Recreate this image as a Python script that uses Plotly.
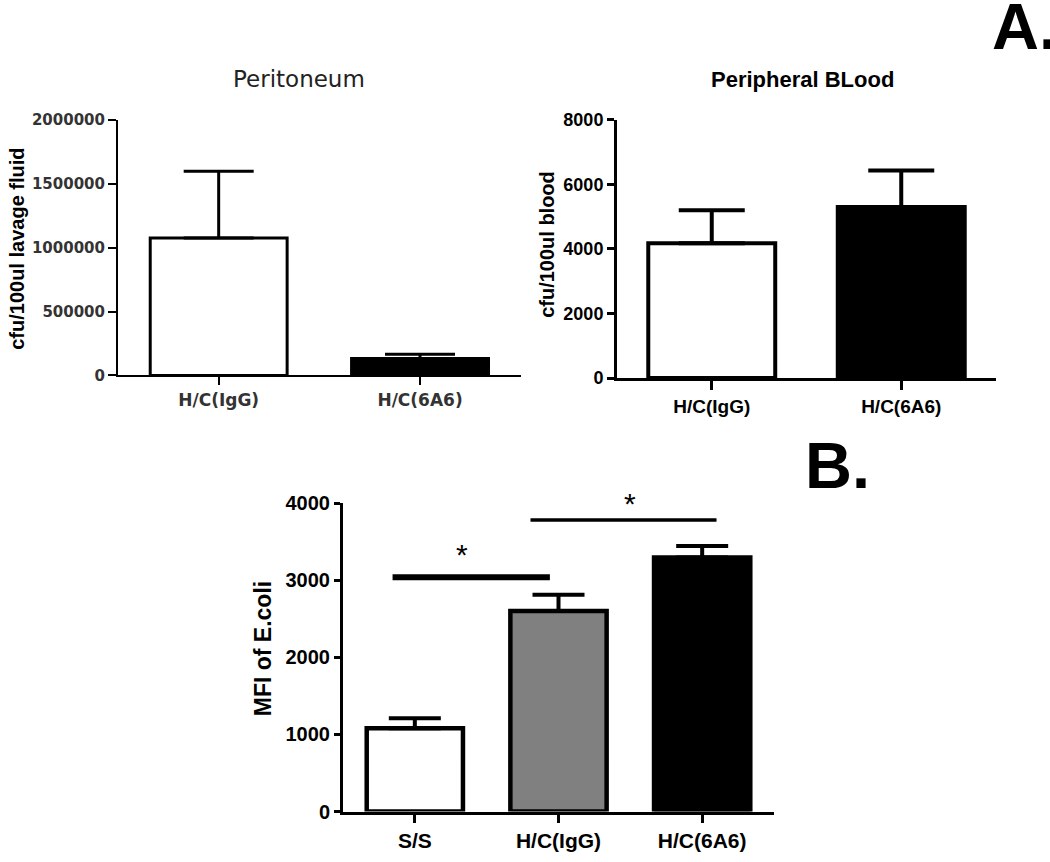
import plotly.graph_objects as go

W, H = 1050, 862

# ---------------- data ----------------
peri_cats = ["H/C(IgG)", "H/C(6A6)"]
peri_mean = [1075000, 132000]
peri_upper = [1598000, 165000]
peri_ticks = [0, 500000, 1000000, 1500000, 2000000]

blood_cats = ["H/C(IgG)", "H/C(6A6)"]
blood_mean = [4180, 5300]
blood_upper = [5200, 6430]
blood_ticks = [0, 2000, 4000, 6000, 8000]

mfi_cats = ["S/S", "H/C(IgG)", "H/C(6A6)"]
mfi_mean = [1080, 2600, 3295]
mfi_upper = [1210, 2810, 3445]
mfi_ticks = [0, 1000, 2000, 3000, 4000]

# significance brackets (category-position start/end, height) and star marks
sig_x0 = [-0.155, 0.805]
sig_x1 = [0.94, 2.10]
sig_y = [3040, 3780]
sig_w = [6, 3.5]
star_x = [0.33, 1.50]
star_y = [3330, 4000]

# ---------------- helpers ----------------
def px(x):
    return x / W

def py(y):
    return 1 - y / H

ARIAL = "Liberation Sans, Arial, sans-serif"
DEJA = "DejaVu Sans, sans-serif"

fig = go.Figure()

def add_bars(xa, ya, cats, mean, upper, colors, width, lw, ew, et):
    xs = list(range(len(cats)))
    fig.add_trace(go.Bar(
        x=xs, y=mean, width=width, xaxis=xa, yaxis=ya,
        marker=dict(color=colors, line=dict(color="black", width=lw)),
        error_y=dict(type="data", symmetric=False,
                     array=[u - m for u, m in zip(upper, mean)],
                     arrayminus=[0] * len(mean),
                     color="black", thickness=et, width=ew),
        showlegend=False, hoverinfo="skip",
    ))

add_bars("x", "y", peri_cats, peri_mean, peri_upper, ["white", "black"], 0.68, 3, 35, 3)
add_bars("x2", "y2", blood_cats, blood_mean, blood_upper, ["white", "black"], 0.67, 4, 33, 4)
add_bars("x3", "y3", mfi_cats, mfi_mean, mfi_upper, ["white", "#808080", "black"], 0.67, 4.5, 26, 4)

# significance lines
for a, b, h, w in zip(sig_x0, sig_x1, sig_y, sig_w):
    fig.add_trace(go.Scatter(x=[a, b], y=[h, h], mode="lines", xaxis="x3", yaxis="y3",
                             line=dict(color="black", width=w),
                             showlegend=False, hoverinfo="skip", cliponaxis=False))
for sx, sy in zip(star_x, star_y):
    fig.add_annotation(text="*", x=sx, y=sy, xref="x3", yref="y3", showarrow=False,
                       font=dict(family=ARIAL, size=30, color="black"),
                       xanchor="center", yanchor="middle")

def xaxis_cfg(dom, cats, lw, font, ticklen, anchor):
    return dict(domain=dom, range=[-0.5, len(cats) - 0.5], anchor=anchor,
                tickvals=list(range(len(cats))),
                ticktext=["<b>%s</b>" % c for c in cats],
                showline=True, linecolor="black", linewidth=lw,
                ticks="outside", ticklen=ticklen, tickwidth=lw, tickcolor="black",
                showgrid=False, zeroline=False, tickfont=font, fixedrange=True)

def yaxis_cfg(dom, ticks, lw, font, ticklen, anchor):
    return dict(domain=dom, range=[ticks[0], ticks[-1]], anchor=anchor,
                tickvals=ticks, ticktext=["<b>%d</b>" % t for t in ticks],
                showline=True, linecolor="black", linewidth=lw,
                ticks="outside", ticklen=ticklen, tickwidth=lw, tickcolor="black",
                showgrid=False, zeroline=False, tickfont=font, fixedrange=True)

f1_tick = dict(family=DEJA, size=15, color="#333333")
f1_x = dict(family=DEJA, size=17, color="#333333")
f2_tick = dict(family=ARIAL, size=18, color="black")
f2_x = dict(family=ARIAL, size=19, color="black")
f3_tick = dict(family=ARIAL, size=20, color="black")
f3_x = dict(family=ARIAL, size=21, color="black")

fig.update_layout(
    width=W, height=H,
    margin=dict(l=0, r=0, t=0, b=0),
    paper_bgcolor="white", plot_bgcolor="white",
    xaxis=xaxis_cfg([px(118), px(520.7)], peri_cats, 2, f1_x, 8, "y"),
    yaxis=yaxis_cfg([py(374), py(111.7)], peri_ticks, 2, f1_tick, 8, "x"),
    xaxis2=xaxis_cfg([px(617), px(996)], blood_cats, 3, f2_x, 9, "y2"),
    yaxis2=yaxis_cfg([py(376.7), py(111.7)], blood_ticks, 3, f2_tick, 7, "x2"),
    xaxis3=xaxis_cfg([px(343), px(774)], mfi_cats, 3, f3_x, 8, "y3"),
    yaxis3=yaxis_cfg([py(821.5), py(505)], mfi_ticks, 3, f3_tick, 6, "x3"),
)

def ann(text, x, y, font, angle=0, xanchor="center"):
    fig.add_annotation(text=text, x=px(x), y=py(y), xref="paper", yref="paper",
                       showarrow=False, textangle=angle, font=font,
                       xanchor=xanchor, yanchor="middle")

ann("Peritoneum", 299, 70, dict(family=DEJA, size=23, color="#222222"))
ann("<b>Peripheral BLood</b>", 802, 70, dict(family=ARIAL, size=22, color="black"))
ann("<b>cfu/100ul lavage fluid</b>", 17, 244, dict(family=ARIAL, size=20, color="black"), -90)
ann("<b>cfu/100ul blood</b>", 547, 240, dict(family=ARIAL, size=20, color="black"), -90)
ann("<b>MFI of E.coli</b>", 263, 655, dict(family=ARIAL, size=23, color="black"), -90)
ann("<b>A.</b>", 990, 16, dict(family=ARIAL, size=65, color="black"), xanchor="left")
ann("<b>B.</b>", 803, 466, dict(family=ARIAL, size=65, color="black"), xanchor="left")

fig.write_html("out.html", config={"displayModeBar": False},
               post_script="document.body.style.margin='0';")
